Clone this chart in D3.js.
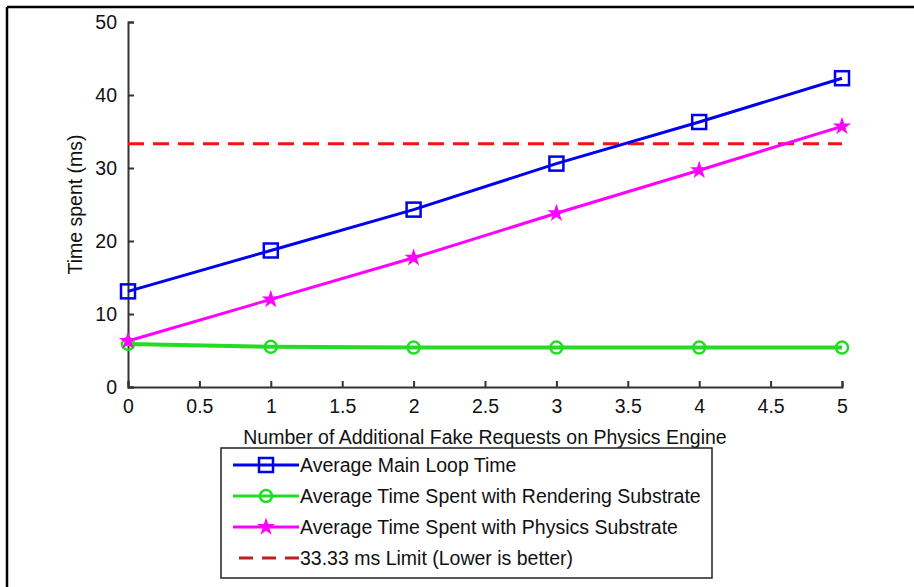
<!DOCTYPE html>
<html><head><meta charset="utf-8">
<script src="https://cdn.jsdelivr.net/npm/d3@7"></script>
<style>
html,body{margin:0;padding:0;background:#fff;}
text{font-family:"Liberation Sans",Arial,sans-serif;fill:#111;}
</style></head>
<body>
<svg id="c" width="914" height="587"></svg>
<script>
const xValues = [0, 1, 2, 3, 4, 5];
const mainLoop = [13.1, 18.7, 24.3, 30.6, 36.3, 42.3];
const rendering = [5.9, 5.5, 5.4, 5.4, 5.4, 5.4];
const physics = [6.3, 12.0, 17.7, 23.8, 29.7, 35.7];
const limitValue = 33.33;
const xTicks = [0, 0.5, 1, 1.5, 2, 2.5, 3, 3.5, 4, 4.5, 5];
const yTicks = [0, 10, 20, 30, 40, 50];
const legendLabels = ["Average Main Loop Time", "Average Time Spent with Rendering Substrate",
  "Average Time Spent with Physics Substrate", "33.33 ms Limit (Lower is better)"];
const xLabel = "Number of Additional Fake Requests on Physics Engine";
const yLabel = "Time spent (ms)";

const svg = d3.select("#c");
const fs = 19.5;
// outer frame (top and left)
svg.append("line").attr("x1",7).attr("y1",7).attr("x2",914).attr("y2",7).attr("stroke","#000").attr("stroke-width",2.5);
svg.append("line").attr("x1",7).attr("y1",7).attr("x2",7).attr("y2",587).attr("stroke","#000").attr("stroke-width",2.5);

const x = d3.scaleLinear().domain([0,5]).range([128,842]);
const y = d3.scaleLinear().domain([0,50]).range([387,22]);

// axes
const xAxis = svg.append("g").attr("transform","translate(0,387)")
  .call(d3.axisBottom(x).tickValues(xTicks).tickSizeInner(-6).tickSizeOuter(-6).tickPadding(12).tickFormat(d3.format("")));
const yAxis = svg.append("g").attr("transform","translate(128,0)")
  .call(d3.axisLeft(y).tickValues(yTicks).tickSizeInner(-6).tickSizeOuter(-6).tickPadding(11));
[xAxis,yAxis].forEach(a=>{
  a.selectAll("path,line").attr("stroke","#333").attr("stroke-width",2);
  a.selectAll("text").style("font-size",fs+"px").attr("fill","#111");
});
xAxis.selectAll("text").attr("dy","0.71em");

// axis labels
svg.append("text").attr("x",(x(0)+x(5))/2).attr("y",444).attr("text-anchor","middle").style("font-size",fs+"px").text(xLabel);
svg.append("text").attr("transform",`translate(82,${(y(0)+y(50))/2}) rotate(-90)`).attr("text-anchor","middle").style("font-size",fs+"px").text(yLabel);

const line = d3.line().x((d,i)=>x(xValues[i])).y(d=>y(d));

// limit line
svg.append("line").attr("x1",x(0)).attr("x2",x(5)).attr("y1",y(limitValue)).attr("y2",y(limitValue))
  .attr("stroke","#ff1010").attr("stroke-width",3).attr("stroke-dasharray","16,9");

const series = [
  {vals:mainLoop, color:"#0000ee", marker:"square"},
  {vals:rendering, color:"#22dd22", marker:"circle"},
  {vals:physics, color:"#ff00ff", marker:"star"}
];
function drawMarker(g, type, cx, cy, color){
  if(type==="square"){
    g.append("rect").attr("x",cx-7).attr("y",cy-7).attr("width",14).attr("height",14)
      .attr("fill","none").attr("stroke",color).attr("stroke-width",2.5);
  } else if(type==="circle"){
    g.append("circle").attr("cx",cx).attr("cy",cy).attr("r",6)
      .attr("fill","none").attr("stroke",color).attr("stroke-width",2.5);
  } else {
    g.append("path").attr("transform",`translate(${cx},${cy})`)
      .attr("d",d3.symbol().type(d3.symbolStar).size(45)())
      .attr("fill",color).attr("stroke",color).attr("stroke-width",2);
  }
}
series.forEach(s=>{
  svg.append("path").datum(s.vals).attr("d",line).attr("fill","none")
    .attr("stroke",s.color).attr("stroke-width",s.marker==="circle"?4:3);
});
series.forEach(s=>{
  const g = svg.append("g");
  s.vals.forEach((v,i)=>drawMarker(g,s.marker,x(xValues[i]),y(v),s.color));
});

// legend
const lg = svg.append("g");
lg.append("rect").attr("x",221).attr("y",448).attr("width",491).attr("height",130)
  .attr("fill","#fff").attr("stroke","#222").attr("stroke-width",1.5);
const rowY = [465, 496, 527, 558];
legendLabels.forEach((lab,i)=>{
  const yy = rowY[i];
  if(i<3){
    const s = series[i];
    lg.append("line").attr("x1",233).attr("x2",299).attr("y1",yy).attr("y2",yy).attr("stroke",s.color).attr("stroke-width",3);
    drawMarker(lg, s.marker, 266, yy, s.color);
  } else {
    lg.append("line").attr("x1",239).attr("x2",299).attr("y1",yy).attr("y2",yy).attr("stroke","#c02020")
      .attr("stroke-width",3).attr("stroke-dasharray","14,9");
  }
  lg.append("text").attr("x",300).attr("y",yy).attr("dy","0.35em").style("font-size",fs+"px").text(lab);
});
</script>
</body></html>
